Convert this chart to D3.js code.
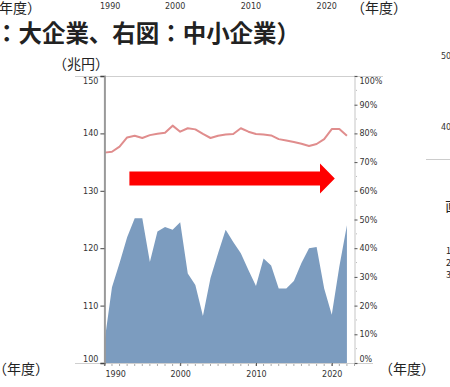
<!DOCTYPE html>
<html>
<head>
<meta charset="utf-8">
<script src="https://cdn.jsdelivr.net/npm/d3@7"></script>
<style>
  body { margin: 0; background: #fff; }
  svg { display: block; }
  .num { font-family: "DejaVu Sans", Verdana, sans-serif; font-size: 8px; fill: #333; }
  .jp { font-family: "Noto Sans CJK JP", sans-serif; fill: #222; }
</style>
</head>
<body>
<div id="chart"></div>
<script>
// fiscal years
var years = [];
for (var yr = 1990; yr <= 2022; yr++) years.push(yr);

// area series (left axis, 兆円)
var areaValues = [103.6, 113.2, 117.4, 121.9, 125.2, 125.2, 117.6, 122.9, 123.7, 123.2,
                  124.5, 115.6, 113.6, 108.2, 114.8, 119.1, 123.2, 121.1, 119.1, 116.2,
                  113.4, 118.2, 117.0, 113.0, 113.0, 114.3, 117.4, 120.0, 120.2, 113.0,
                  108.4, 116.8, 124.0];

// line series (right axis, %)
var lineValues = [73.3, 73.6, 75.4, 78.6, 79.2, 78.4, 79.4, 79.9, 80.2, 82.7,
                  80.6, 81.8, 81.4, 79.8, 78.4, 79.2, 79.6, 79.8, 81.8, 80.6,
                  79.8, 79.6, 79.3, 78.0, 77.5, 77.0, 76.4, 75.6, 76.3, 78.0,
                  81.5, 81.5, 79.2];

var leftTicks = [100, 110, 120, 130, 140, 150];
var rightTicks = [0, 10, 20, 30, 40, 50, 60, 70, 80, 90, 100];
var yearTicks = [1990, 2000, 2010, 2020];

var title = "：大企業、右図：中小企業）";
var unitLabel = "（兆円）";
var yearLabel = "（年度）";

var data = years.map(function (d, i) {
    return { year: d, area: areaValues[i], line: lineValues[i] };
});

var W = 450, H = 387;
var svg = d3.select("#chart").append("svg")
    .attr("width", W)
    .attr("height", H);

var x = d3.scaleLinear().domain([1990, 2023]).range([104.4, 354.5]);
var yL = d3.scaleLinear().domain([100, 150]).range([363, 76]);
var yR = d3.scaleLinear().domain([0, 100]).range([363, 76]);

// frame lines
svg.append("line").attr("x1", 75).attr("x2", 383).attr("y1", 76.5).attr("y2", 76.5)
    .attr("stroke", "#cfcfcf");
svg.append("line").attr("x1", 75).attr("x2", 373).attr("y1", 363.5).attr("y2", 363.5)
    .attr("stroke", "#cfcfcf");

// area
var area = d3.area()
    .x(function (d) { return x(d.year); })
    .y0(yL(100))
    .y1(function (d) { return yL(d.area); });

svg.append("path")
    .datum(data)
    .attr("fill", "#7c9cbf")
    .attr("d", area);

// line
var line = d3.line()
    .x(function (d) { return x(d.year); })
    .y(function (d) { return yR(d.line); });

svg.append("path")
    .datum(data)
    .attr("fill", "none")
    .attr("stroke", "#e08d8d")
    .attr("stroke-width", 2)
    .attr("stroke-linejoin", "round")
    .attr("d", line);

// arrow (in data units)
var arrow = { from: 1993.3, bodyEnd: 2018.45, tip: 2020.4, level: 64.3 };
var cy = yR(arrow.level);
svg.append("path")
    .attr("fill", "#ff0000")
    .attr("d", "M" + x(arrow.from) + "," + (cy - 7) +
        "L" + x(arrow.bodyEnd) + "," + (cy - 7) +
        "L" + x(arrow.bodyEnd) + "," + (cy - 15) +
        "L" + x(arrow.tip) + "," + cy +
        "L" + x(arrow.bodyEnd) + "," + (cy + 15) +
        "L" + x(arrow.bodyEnd) + "," + (cy + 7) +
        "L" + x(arrow.from) + "," + (cy + 7) + "Z");

// left axis
var gl = svg.append("g")
    .attr("transform", "translate(" + x(1990) + ",0)")
    .call(d3.axisLeft(yL).tickValues(leftTicks).tickSize(4).tickPadding(2));
gl.select(".domain").attr("stroke", "#9a9a9a").attr("stroke-width", 2);
gl.selectAll(".tick line").attr("stroke", "#444");
gl.selectAll(".tick text").attr("class", "num").attr("font-size", null).attr("font-family", null)
    .attr("fill", null)
    .attr("dy", function (d) { return d == 150 ? "0.95em" : d == 100 ? "-0.2em" : "0.32em"; });

// right axis
svg.append("g").selectAll("line")
    .data(d3.range(5, 100, 10))
    .enter().append("line")
    .attr("x1", 355).attr("x2", 357)
    .attr("y1", function (d) { return yR(d); })
    .attr("y2", function (d) { return yR(d); })
    .attr("stroke", "#bbb");
var gr = svg.append("g")
    .attr("transform", "translate(" + x(2023) + ",0)")
    .call(d3.axisRight(yR).tickValues(rightTicks).tickSize(3).tickPadding(2)
        .tickFormat(function (d) { return d + "%"; }));
gr.select(".domain").attr("stroke", "#e2e2e2").attr("stroke-width", 2);
gr.selectAll(".tick line").attr("stroke", "#555");
gr.selectAll(".tick text").attr("class", "num").attr("font-size", null).attr("font-family", null)
    .attr("fill", null)
    .attr("dy", function (d) { return d == 100 ? "0.95em" : d == 0 ? "-0.2em" : "0.32em"; });

// bottom axis
svg.append("g").selectAll("line")
    .data(years.concat([2023]))
    .enter().append("line")
    .attr("x1", function (d) { return x(d); })
    .attr("x2", function (d) { return x(d); })
    .attr("y1", 364).attr("y2", 366)
    .attr("stroke", "#aaa");
var gb = svg.append("g")
    .attr("transform", "translate(0,363)")
    .call(d3.axisBottom(x).tickValues(yearTicks).tickSize(3).tickPadding(5).tickFormat(d3.format("d")));
gb.select(".domain").remove();
gb.selectAll(".tick line").attr("stroke", "#555");
gb.selectAll(".tick text").attr("class", "num").attr("font-size", null).attr("font-family", null)
    .attr("fill", null)
    .attr("text-anchor", function (d) { return d == 1990 ? "start" : "middle"; })
    .attr("dx", function (d) { return d == 1990 ? 0.6 : 0; });

// labels of the chart above (cut off)
svg.append("g").selectAll("text")
    .data(yearTicks)
    .enter().append("text")
    .attr("class", "num")
    .attr("x", function (d) { return d == 1990 ? x(d) - 4.4 : x(d) - 5; })
    .attr("y", 9)
    .attr("text-anchor", function (d) { return d == 1990 ? "start" : "middle"; })
    .text(function (d) { return d; });

svg.append("text").attr("class", "jp").attr("x", -1).attr("y", 13)
    .attr("font-size", 14).text(yearLabel.slice(1));
svg.append("text").attr("class", "jp").attr("x", 351).attr("y", 13)
    .attr("font-size", 14).text(yearLabel);

// title
svg.append("text").attr("class", "jp").attr("x", -5).attr("y", 42)
    .attr("font-size", 24).attr("font-weight", "bold").attr("fill", "#111")
    .attr("textLength", 305).attr("lengthAdjust", "spacingAndGlyphs")
    .text(title);

// unit
svg.append("text").attr("class", "jp").attr("x", 53).attr("y", 69)
    .attr("font-size", 14).text(unitLabel);

// bottom year labels
svg.append("text").attr("class", "jp").attr("x", -7).attr("y", 374)
    .attr("font-size", 14).text(yearLabel);
svg.append("text").attr("class", "jp").attr("x", 379).attr("y", 374)
    .attr("font-size", 14).text(yearLabel);

// fragments of the neighbouring chart on the right
svg.append("text").attr("class", "num").attr("x", 441).attr("y", 59)
    .attr("font-size", 10).attr("fill", "#444").text("50");
svg.append("text").attr("class", "num").attr("x", 441).attr("y", 130)
    .attr("font-size", 10).attr("fill", "#444").text("40");
svg.append("line").attr("x1", 426).attr("x2", 450).attr("y1", 159.5).attr("y2", 159.5)
    .attr("stroke", "#ccc");
svg.append("text").attr("class", "jp").attr("x", 445).attr("y", 211)
    .attr("font-size", 14).text("直");
["1", "2", "3"].forEach(function (t, i) {
    svg.append("text").attr("class", "jp").attr("x", 446).attr("y", 254 + i * 12)
        .attr("font-size", 9).text(t);
});
</script>
</body>
</html>
